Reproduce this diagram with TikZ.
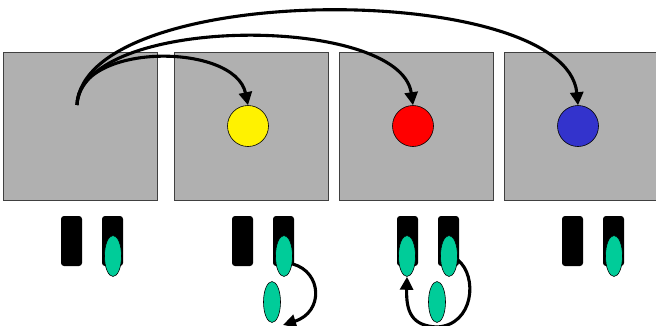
\documentclass[tikz,border=0pt]{standalone}
\usetikzlibrary{arrows.meta,shapes.geometric}
\definecolor{panelgray}{RGB}{176,176,176}
\definecolor{paneledge}{RGB}{64,64,64}
\definecolor{tokengreen}{RGB}{0,204,153}
\definecolor{dotblue}{RGB}{51,51,204}
\tikzset{
  panel/.style={draw=paneledge, line width=1pt, fill=panelgray, minimum width=154pt, minimum height=148pt, inner sep=0pt},
  dot/.style={circle, draw=black, line width=0.6pt, minimum size=41pt, inner sep=0pt},
  slot/.style={fill=black, rounded corners=3pt, minimum width=21pt, minimum height=50pt, inner sep=0pt},
  token/.style={ellipse, draw=black, line width=0.6pt, fill=tokengreen, minimum width=17pt, minimum height=41pt, inner sep=0pt},
  link/.style={line width=3.1pt, -{Triangle[length=13pt,width=13pt]}},
  loop/.style={line width=3.1pt},
}
\begin{document}
\begin{tikzpicture}[x=1pt, y=-1pt]
\useasboundingbox (0,0) rectangle (656,325);
\begin{scope}
\clip (0,0) rectangle (656,325);
% panels
\node[panel] (p1) at (80,126) {};
\node[panel] (p2) at (251,126) {};
\node[panel] (p3) at (416,126) {};
\node[panel] (p4) at (581,126) {};
% coloured dots
\node[dot, fill=yellow] (cy) at (248,126) {};
\node[dot, fill=red] (cr) at (413,126) {};
\node[dot, fill=dotblue] (cb) at (578,126) {};
% arrows from the first panel
\coordinate (src) at (77,105);
\draw[link] (src) .. controls (77,42) and (235,42) .. (cy.north);
\draw[link] (src) .. controls (82,14) and (400,14) .. (cr.north);
\draw[link] (src) .. controls (84,-20) and (566,-20) .. (cb.north);
% slot pairs
\node[slot] (a1) at (71.5,241) {};
\node[slot] (a2) at (112.5,241) {};
\node[slot] (b1) at (242.5,241) {};
\node[slot] (b2) at (283.5,241) {};
\node[slot] (c1) at (407.5,241) {};
\node[slot] (c2) at (448.5,241) {};
\node[slot] (d1) at (572.5,241) {};
\node[slot] (d2) at (613.5,241) {};
% tokens in slots
\node[token] (ta) at (113,256) {};
\node[token] (tb) at (284,256) {};
\node[token] (tc1) at (407,256) {};
\node[token] (tc2) at (449,256) {};
\node[token] (td) at (614,256) {};
% second pair: token leaves the slot
\coordinate (bdrop) at (283,325);
\draw[link] (tb.east) ++(0,8) .. controls (322,272) and (324,312) .. (bdrop);
\node[token] (tbl) at (272,302) {};
% third pair: token moves across under the slots
\coordinate (cbot) at (437,327);
\draw[loop] (tc2.east) ++(0,4) .. controls (478,276) and (474,325) .. (cbot);
\draw[link] (cbot) .. controls (412,326) and (406,312) .. (tc1.south);
\node[token] (tcl) at (437,302) {};
\end{scope}
\end{tikzpicture}
\end{document}
